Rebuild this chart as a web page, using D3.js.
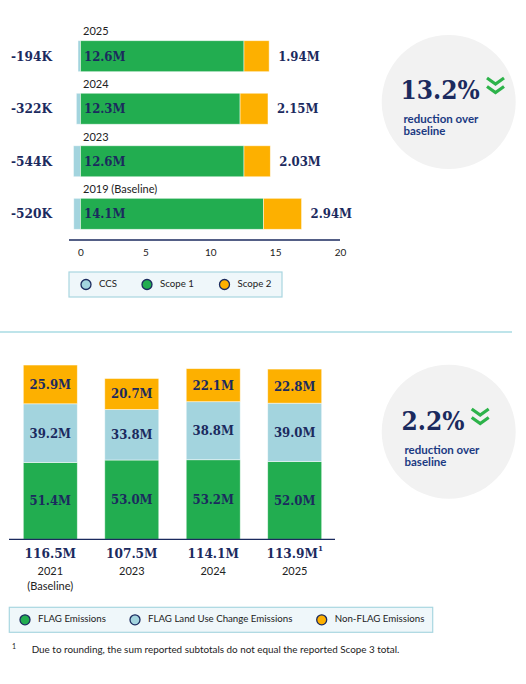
<!DOCTYPE html>
<html><head><meta charset="utf-8">
<script src="https://cdn.jsdelivr.net/npm/d3@7"></script>
<style>
html,body{margin:0;padding:0;background:#fff;}
svg{display:block;}
.slab{font-family:"DejaVu Serif",serif;font-stretch:condensed;font-weight:bold;fill:#1b2a5e;}
.sans{font-family:Lato,"Open Sans",sans-serif;fill:#222;}
</style></head>
<body>
<svg id="c" width="526" height="684"></svg>
<script>
// ---- Top chart data (Scope 1 & 2, million tCO2e) ----
const years1 = ["2025", "2024", "2023", "2019 (Baseline)"];
const ccs = [-0.194, -0.322, -0.544, -0.520];
const scope1 = [12.6, 12.3, 12.6, 14.1];
const scope2 = [1.94, 2.15, 2.03, 2.94];
const ticks1 = [0, 5, 10, 15, 20];
const legend1 = ["CCS", "Scope 1", "Scope 2"];
const reduction1 = "13.2%";

// ---- Bottom chart data (Scope 3, million tCO2e) ----
const years2 = ["2021", "2023", "2024", "2025"];
const years2Sub = ["(Baseline)", "", "", ""];
const flag = [51.4, 53.0, 53.2, 52.0];
const flagLuc = [39.2, 33.8, 38.8, 39.0];
const nonFlag = [25.9, 20.7, 22.1, 22.8];
const totals2 = [116.5, 107.5, 114.1, 113.9];
const totalNotes = ["", "", "", "1"];
const legend2 = ["FLAG Emissions", "FLAG Land Use Change Emissions", "Non-FLAG Emissions"];
const reduction2 = "2.2%";
const footnote = "Due to rounding, the sum reported subtotals do not equal the reported Scope 3 total.";

const C = {green:"#22ad50", orange:"#fdb000", blue:"#a3d4de", navy:"#1b2a5e", chev:"#2db34a"};

const svg = d3.select("#c");

// ================= TOP CHART =================
const x1 = d3.scaleLinear().domain([0, 20]).range([80.5, 340]);
const y1 = d3.scaleBand().domain(years1).range([40.7, 229.3]).paddingInner(0.41).paddingOuter(0);
const rows1 = years1.map((y, i) => ({year: y, ccs: ccs[i], s1: scope1[i], s2: scope2[i]}));

const g1 = svg.append("g");
const row = g1.selectAll("g.row").data(rows1).join("g").attr("class", "row");
row.append("rect").attr("x", d => x1(d.ccs)).attr("width", d => x1(0) - x1(d.ccs))
  .attr("y", d => y1(d.year)).attr("height", y1.bandwidth()).attr("fill", C.blue);
row.append("rect").attr("x", x1(0)).attr("width", d => x1(d.s1) - x1(0))
  .attr("y", d => y1(d.year)).attr("height", y1.bandwidth()).attr("fill", C.green);
row.append("rect").attr("x", d => x1(d.s1)).attr("width", d => x1(d.s1 + d.s2) - x1(d.s1))
  .attr("y", d => y1(d.year)).attr("height", y1.bandwidth()).attr("fill", C.orange);
row.selectAll("rect").attr("stroke", "#ffffff").attr("stroke-opacity", 0.6).attr("stroke-width", 0.8);

row.append("text").attr("class", "sans").attr("x", x1(0) + 2.5).attr("y", d => y1(d.year) - 8)
  .attr("dominant-baseline", "middle").attr("font-size", 11).text(d => d.year);
row.append("text").attr("class", "slab").attr("x", x1(0) + 3.5).attr("y", d => y1(d.year) + y1.bandwidth() / 2 + 1)
  .attr("dominant-baseline", "middle").attr("font-size", 13).text(d => d.s1.toFixed(1) + "M");
row.append("text").attr("class", "slab").attr("x", d => x1(d.s1 + d.s2) + 9).attr("y", d => y1(d.year) + y1.bandwidth() / 2 + 1)
  .attr("dominant-baseline", "middle").attr("font-size", 13).text(d => d.s2.toFixed(2) + "M");
row.append("text").attr("class", "slab").attr("x", 52).attr("y", d => y1(d.year) + y1.bandwidth() / 2 + 1)
  .attr("text-anchor", "end").attr("dominant-baseline", "middle").attr("font-size", 13.5)
  .text(d => Math.round(d.ccs * 1000) + "K");

// axis
const ax1 = g1.append("g").attr("transform", "translate(0,240)")
  .call(d3.axisBottom(x1).tickValues(ticks1).tickSize(0).tickPadding(9).tickFormat(d3.format("d")));
ax1.select(".domain").remove();
ax1.selectAll("text").attr("font-family", "Lato, sans-serif").attr("font-size", 10).attr("fill", "#222");
g1.append("line").attr("x1", 69).attr("x2", 340).attr("y1", 240).attr("y2", 240)
  .attr("stroke", C.navy).attr("stroke-width", 1.3);

// legend
function legend(g, x0, y0, w, h, labels, colors, positions) {
  g.append("rect").attr("x", x0).attr("y", y0).attr("width", w).attr("height", h)
    .attr("fill", "#eff7fa").attr("stroke", "#a9d6e0").attr("stroke-width", 1.2);
  const it = g.selectAll("g.li").data(labels).join("g").attr("class", "li")
    .attr("transform", (d, i) => `translate(${positions[i]},${y0 + h / 2})`);
  it.append("circle").attr("r", 5).attr("fill", (d, i) => colors[i]).attr("stroke", C.navy).attr("stroke-width", 1.3);
  it.append("text").attr("class", "sans").attr("x", 13).attr("dominant-baseline", "middle")
    .attr("font-size", 9.7).text(d => d);
}
legend(svg.append("g"), 69, 272, 213, 25, legend1, [C.blue, C.green, C.orange], [86, 147, 224.5]);

// callout circles
function callout(cx, cy, pct, textX, baseY, chevX) {
  const g = svg.append("g");
  g.append("circle").attr("cx", cx).attr("cy", cy).attr("r", 67).attr("fill", "#f2f2f2");
  g.append("text").attr("class", "slab").attr("x", textX).attr("y", baseY).attr("font-size", 26).text(pct);
  const cy0 = baseY - 21;
  [0, 8.5].forEach(dy => {
    g.append("path").attr("d", `M${chevX},${cy0 + dy} L${chevX + 8.5},${cy0 + dy + 6} L${chevX + 17},${cy0 + dy}`)
      .attr("fill", "none").attr("stroke", C.chev).attr("stroke-width", 3.2);
  });
  g.append("text").attr("x", textX + 3).attr("y", baseY + 23.5).attr("font-family", "Lato, sans-serif")
    .attr("font-weight", "bold").attr("font-size", 11.5).attr("fill", "#1b3a82").text("reduction over");
  g.append("text").attr("x", textX + 3).attr("y", baseY + 36).attr("font-family", "Lato, sans-serif")
    .attr("font-weight", "bold").attr("font-size", 11.5).attr("fill", "#1b3a82").text("baseline");
}
callout(448.7, 102, reduction1, 400.5, 99, 487);

// divider
svg.append("line").attr("x1", 0).attr("x2", 512).attr("y1", 332).attr("y2", 332)
  .attr("stroke", "#a9dbe3").attr("stroke-width", 1.5);

// ================= BOTTOM CHART =================
const x2 = d3.scaleBand().domain(years2).range([23.3, 321.7]).paddingInner(0.337).paddingOuter(0);
const y2 = d3.scaleLinear().domain([0, 120]).range([539.3, 359.8]);
const rows2 = years2.map((y, i) => ({year: y, flag: flag[i], luc: flagLuc[i], non: nonFlag[i]}));
const keys = ["flag", "luc", "non"];
const colors2 = [C.green, C.blue, C.orange];
const stack = d3.stack().keys(keys)(rows2);

const g2 = svg.append("g");
stack.forEach((layer, li) => {
  const gl = g2.append("g");
  gl.selectAll("rect").data(layer).join("rect")
    .attr("x", d => x2(d.data.year)).attr("width", x2.bandwidth())
    .attr("y", d => y2(d[1])).attr("height", d => y2(d[0]) - y2(d[1]))
    .attr("fill", colors2[li]).attr("stroke", "#ffffff").attr("stroke-opacity", 0.6).attr("stroke-width", 0.8);
  gl.selectAll("text").data(layer).join("text").attr("class", "slab")
    .attr("x", d => x2(d.data.year) + x2.bandwidth() / 2)
    .attr("y", d => (y2(d[0]) + y2(d[1])) / 2 + 1)
    .attr("text-anchor", "middle").attr("dominant-baseline", "middle").attr("font-size", 13)
    .text(d => (d[1] - d[0]).toFixed(1) + "M");
});
g2.append("line").attr("x1", 9).attr("x2", 335).attr("y1", 539.3).attr("y2", 539.3)
  .attr("stroke", C.navy).attr("stroke-width", 1.3);

const lab = g2.selectAll("g.lab").data(years2).join("g").attr("class", "lab")
  .attr("transform", d => `translate(${x2(d) + x2.bandwidth() / 2},0)`);
const tot = lab.append("text").attr("class", "slab").attr("y", 554).attr("text-anchor", "middle")
  .attr("dominant-baseline", "middle").attr("font-size", 13.5);
tot.append("tspan").text((d, i) => totals2[i].toFixed(1) + "M");
tot.append("tspan").attr("font-size", 8).attr("dy", -5).text((d, i) => totalNotes[i]);
lab.append("text").attr("class", "sans").attr("y", 572).attr("text-anchor", "middle")
  .attr("dominant-baseline", "middle").attr("font-size", 11).text(d => d);
lab.append("text").attr("class", "sans").attr("y", 587.5).attr("text-anchor", "middle")
  .attr("dominant-baseline", "middle").attr("font-size", 11).text((d, i) => years2Sub[i]);

legend(svg.append("g"), 9.3, 607.3, 423.4, 25, legend2, [C.green, C.blue, C.orange], [25, 135, 321.7]);

callout(448.7, 431.7, reduction2, 401.5, 430, 471.7);

// footnote
svg.append("text").attr("class", "sans").attr("x", 12).attr("y", 649).attr("font-size", 7).text("1");
svg.append("text").attr("class", "sans").attr("x", 31.7).attr("y", 653).attr("font-size", 9.9).text(footnote);
</script>
</body></html>
